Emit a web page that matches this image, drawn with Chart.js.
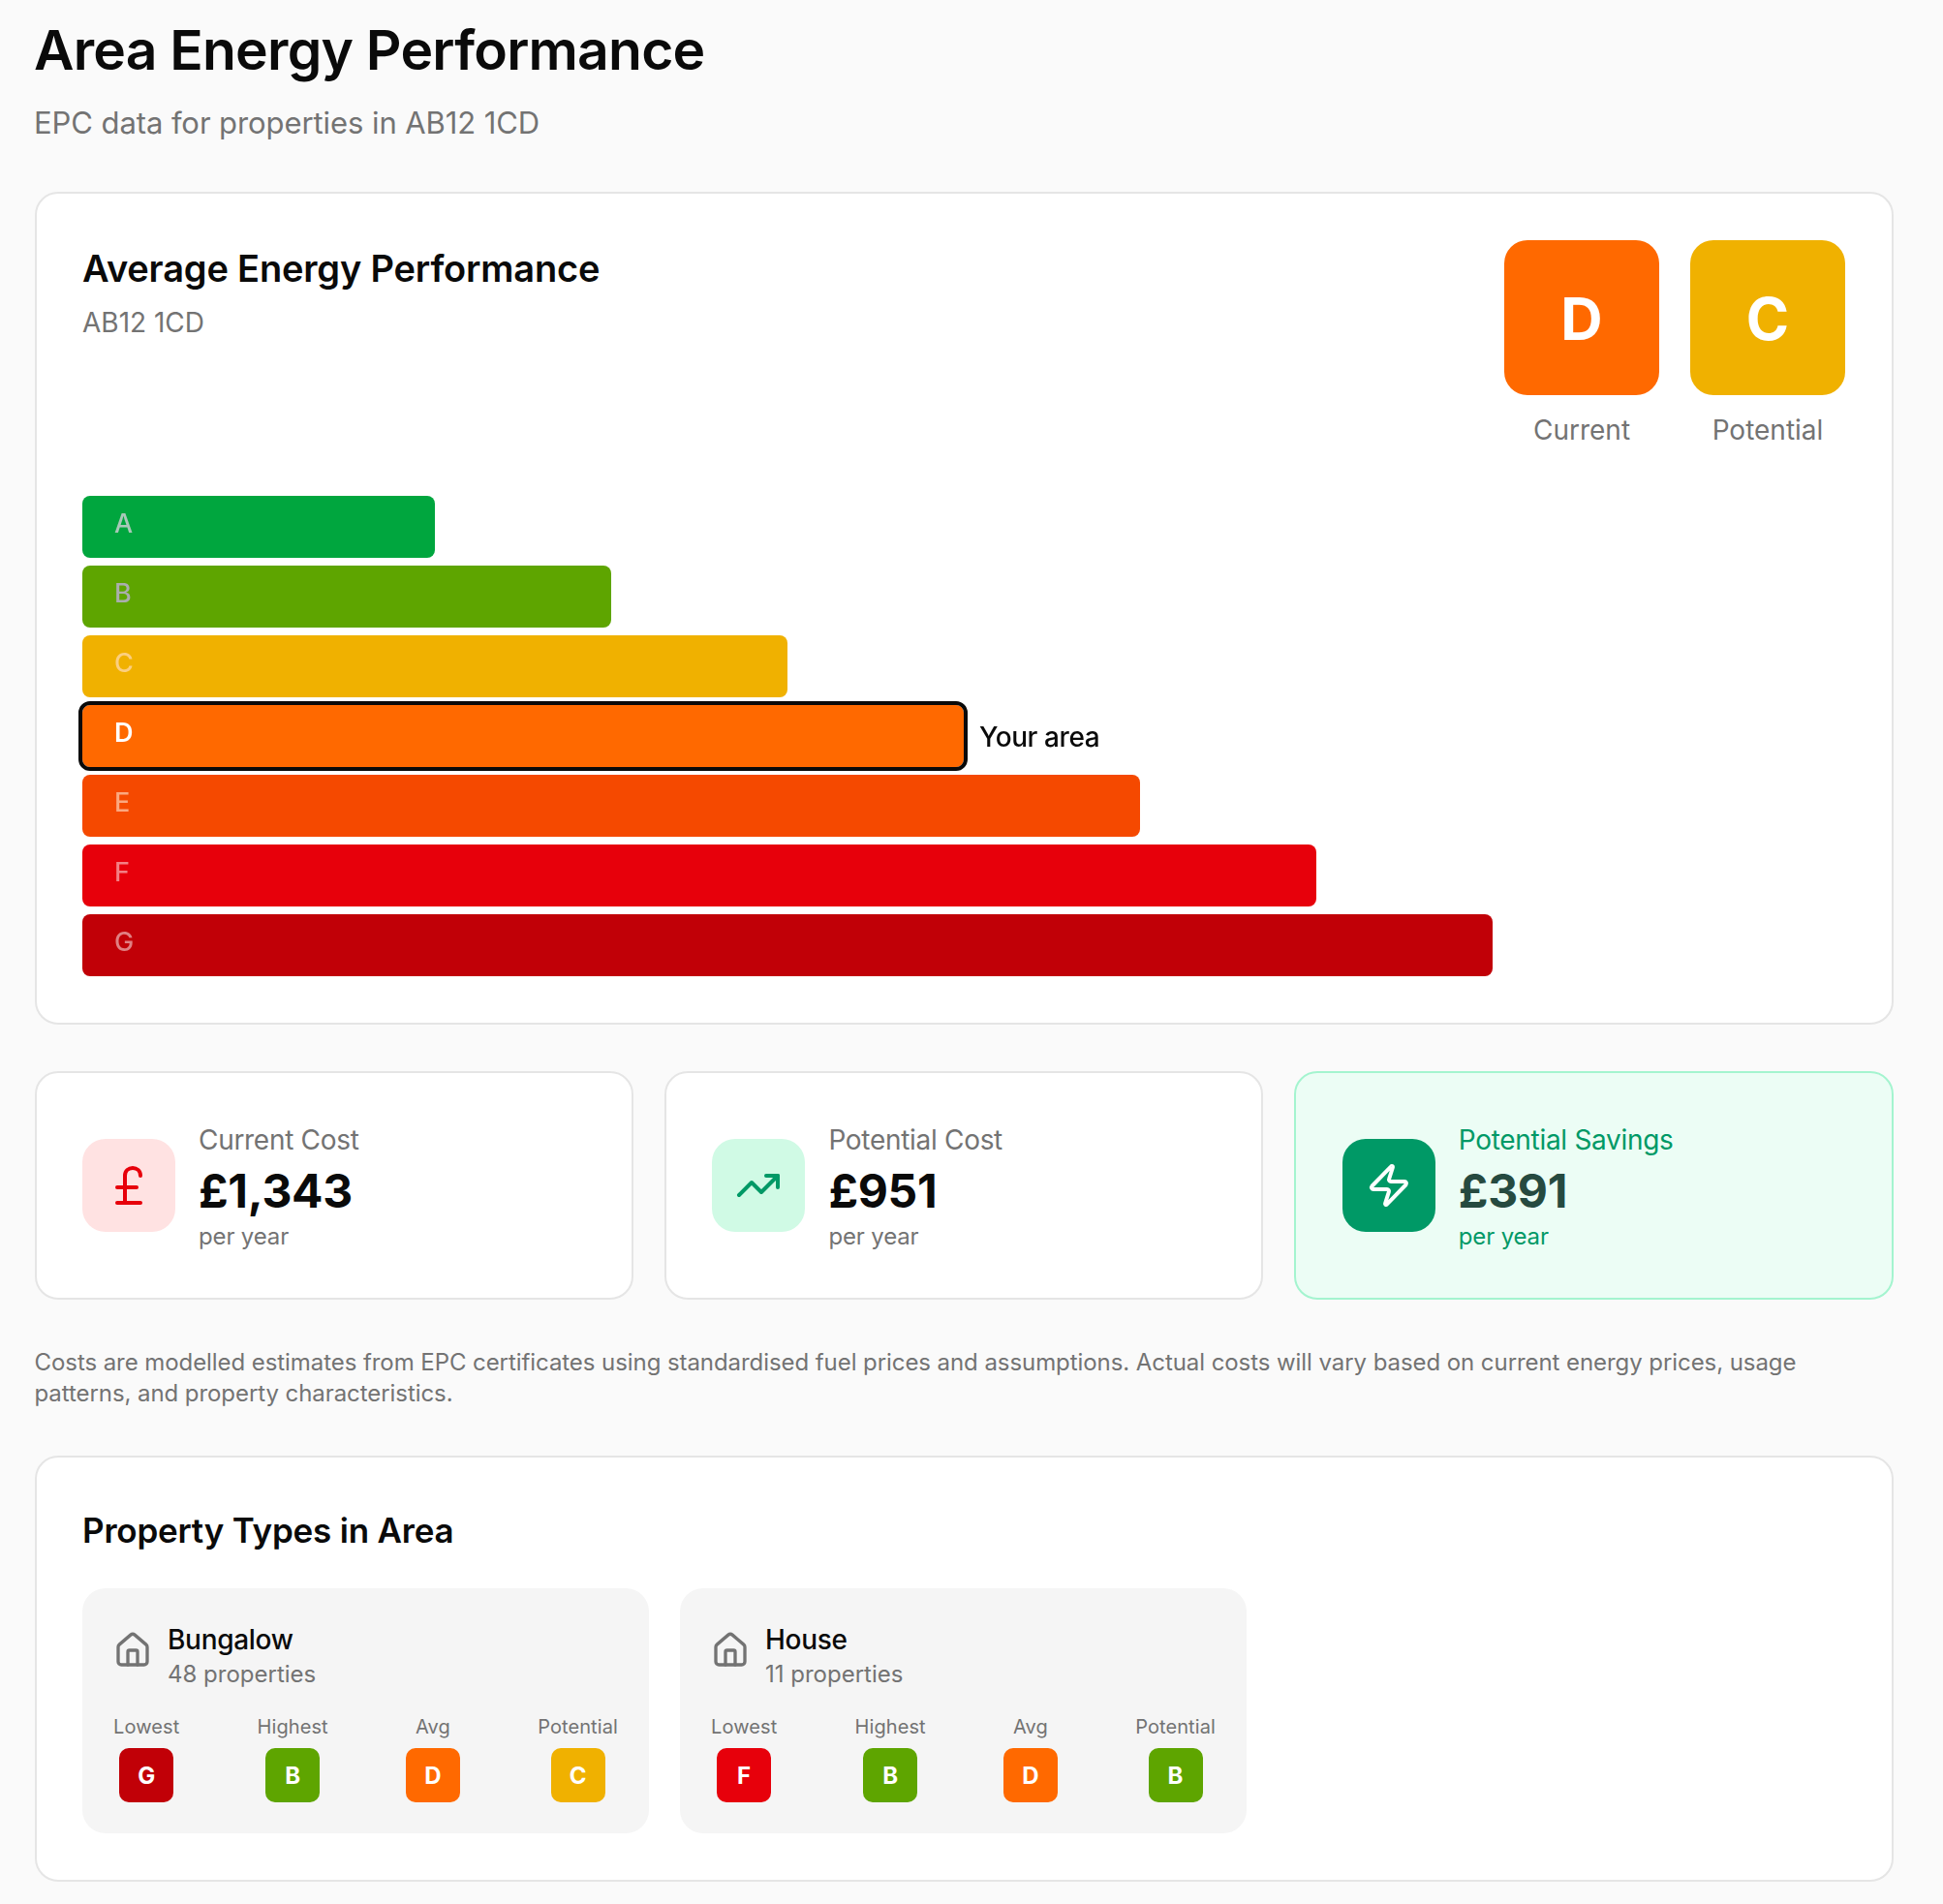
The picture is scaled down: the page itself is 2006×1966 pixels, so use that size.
<!DOCTYPE html>
<html>
<head>
<meta charset="utf-8">
<title>Area Energy Performance</title>
<script src="https://cdn.jsdelivr.net/npm/chart.js@4"></script>
<style>
* { box-sizing: border-box; margin: 0; padding: 0; }
html, body { width: 2006px; height: 1966px; background: #fafafa; overflow: hidden; }
body { position: relative; font-family: Inter, sans-serif; color: #0a0a0a; }
.abs { position: absolute; white-space: nowrap; }
.card { position: absolute; background: #fff; border: 2px solid #e5e5e5; border-radius: 24px; }
.muted { color: #737373; }
h1 { font-size: 57px; font-weight: 600; line-height: 72px; letter-spacing: -.78px; }
h2 { font-weight: 600; }
.grade { position: absolute; display: flex; align-items: center; justify-content: center; color: #fff; font-weight: 700; }
.stat { top: 1106px; height: 236px; width: 618.3px; }
.stat .icon { position: absolute; left: 47.5px; top: 68px; width: 96px; height: 96px; border-radius: 24px; display: flex; align-items: center; justify-content: center; }
.stat .lab { position: absolute; left: 167.5px; top: 49px; font-size: 28px; line-height: 40px; white-space: nowrap; letter-spacing: -.3px; }
.stat .val { position: absolute; left: 167.5px; top: 92px; font-size: 48px; line-height: 60px; font-weight: 700; white-space: nowrap; letter-spacing: -.3px; }
.stat .per { position: absolute; left: 167.5px; top: 153px; font-size: 24px; line-height: 32px; white-space: nowrap; letter-spacing: -.15px; }
.type { position: absolute; top: 1640px; width: 585px; height: 253px; background: #f5f5f5; border-radius: 24px; }
.type svg { position: absolute; left: 32px; top: 44px; }
.type .name { position: absolute; left: 88px; top: 33px; font-size: 28px; line-height: 40px; font-weight: 500; white-space: nowrap; letter-spacing: -.3px; }
.type .count { position: absolute; left: 88px; top: 71px; font-size: 24px; line-height: 36px; white-space: nowrap; }
.type .row { position: absolute; left: 32px; right: 32px; top: 128px; display: flex; justify-content: space-between; }
.type .col { display: flex; flex-direction: column; align-items: center; }
.type .col span { font-size: 20px; line-height: 30px; color: #737373; margin-bottom: 7px; letter-spacing: .1px; }
.type .col b { width: 56px; height: 56px; border-radius: 10px; color: #fff; font-size: 24px; font-weight: 700; display: flex; align-items: center; justify-content: center; padding-top: 1px; }
svg { fill: none; stroke-linecap: round; stroke-linejoin: round; stroke-width: 2; }
</style>
</head>
<body>
<h1 class="abs" style="left:35px;top:16px">Area Energy Performance</h1>
<div class="abs muted" style="left:35px;top:106px;font-size:31px;line-height:42px;letter-spacing:-.08px">EPC data for properties in AB12 1CD</div>

<div class="card" style="left:35.5px;top:198px;width:1919px;height:860px"></div>
<h2 class="abs" style="left:85px;top:251px;font-size:38px;line-height:52px;letter-spacing:-.18px">Average Energy Performance</h2>
<div class="abs muted" style="left:85px;top:313px;font-size:28px;line-height:40px">AB12 1CD</div>
<div id="badges"></div>

<canvas id="grafico-epc" style="position:absolute;left:75px;top:508px"></canvas>

<div class="card stat" style="left:35.5px">
  <div class="icon" style="background:#ffe2e2">
    <svg width="48" height="48" viewBox="0 0 24 24" stroke="#e7000b"><path d="M18 7c0-5.333-8-5.333-8 0"/><path d="M10 7v14"/><path d="M6 21h12"/><path d="M6 13h10"/></svg>
  </div>
  <div class="lab muted">Current Cost</div><div class="val" id="custo-atual"></div><div class="per muted">per year</div>
</div>
<div class="card stat" style="left:685.9px">
  <div class="icon" style="background:#d0fae5">
    <svg width="48" height="48" viewBox="0 0 24 24" stroke="#009966"><path d="M22 7 13.5 15.5 8.5 10.5 2 17"/><path d="M16 7h6v6"/></svg>
  </div>
  <div class="lab muted">Potential Cost</div><div class="val" id="custo-potencial"></div><div class="per muted">per year</div>
</div>
<div class="card stat" style="left:1336.3px;background:#ecfdf5;border-color:#a4f4cf">
  <div class="icon" style="background:#009966">
    <svg width="48" height="48" viewBox="0 0 24 24" stroke="#fff"><path d="M4 14a1 1 0 0 1-.78-1.63l9.9-10.2a.5.5 0 0 1 .86.46l-1.92 6.02A1 1 0 0 0 13 10h7a1 1 0 0 1 .78 1.63l-9.9 10.2a.5.5 0 0 1-.86-.46l1.92-6.02A1 1 0 0 0 11 14z"/></svg>
  </div>
  <div class="lab" style="color:#009966">Potential Savings</div><div class="val" id="poupanca" style="color:#264a40"></div><div class="per" style="color:#009966">per year</div>
</div>

<div class="abs muted" style="left:35.5px;top:1391px;font-size:24px;line-height:32px;letter-spacing:-.07px">Costs are modelled estimates from EPC certificates using standardised fuel prices and assumptions. Actual costs will vary based on current energy prices, usage<br>patterns, and property characteristics.</div>

<div class="card" style="left:35.5px;top:1502.5px;width:1919px;height:440.5px"></div>
<h2 class="abs" style="left:85px;top:1556px;font-size:35px;line-height:48px;letter-spacing:-.2px">Property Types in Area</h2>
<div id="tipos"></div>

<script>
const gradeLetters = ['A', 'B', 'C', 'D', 'E', 'F', 'G'];
const gradeWidths = [20, 30, 40, 50, 60, 70, 80];
const gradeColours = ['#00a63e', '#5ea500', '#f0b100', '#ff6900', '#f54900', '#e7000b', '#c10007'];
const letterColours = ['#a8c8b8', '#aaaead', '#fbcf80', '#ffffff', '#fba880', '#f38085', '#e08083'];
const areaGrade = 'D';
const areaNote = 'Your area';

const headerGrades = ['D', 'C'];
const headerLabels = ['Current', 'Potential'];

const currentCost = '£1,343';
const potentialCost = '£951';
const savings = '£391';

const typeNames = ['Bungalow', 'House'];
const typeCounts = ['48 properties', '11 properties'];
const typeColumns = ['Lowest', 'Highest', 'Avg', 'Potential'];
const bungalowGrades = ['G', 'B', 'D', 'C'];
const houseGrades = ['F', 'B', 'D', 'B'];

function corDaNota(nota) {
    return gradeColours[gradeLetters.indexOf(nota)];
}

document.getElementById('custo-atual').textContent = currentCost;
document.getElementById('custo-potencial').textContent = potentialCost;
document.getElementById('poupanca').textContent = savings;

// the two big squares, top right
const badges = document.getElementById('badges');
headerGrades.forEach((nota, i) => {
    const left = 1553 + i * 192;
    badges.innerHTML += `<div class="grade" style="left:${left}px;top:248px;width:160px;height:160px;border-radius:24px;font-size:60px;background:${corDaNota(nota)};padding-top:2px">${nota}</div>
      <div class="abs muted" style="left:${left}px;width:160px;text-align:center;top:424px;font-size:28px;line-height:40px">${headerLabels[i]}</div>`;
});

const iconeCasa = '<svg width="40" height="40" viewBox="0 0 24 24" stroke="#737373"><path d="M15 21v-8a1 1 0 0 0-1-1h-4a1 1 0 0 0-1 1v8"/><path d="M3 10a2 2 0 0 1 .709-1.528l7-5.999a2 2 0 0 1 2.582 0l7 5.999A2 2 0 0 1 21 10v9a2 2 0 0 1-2 2H5a2 2 0 0 1-2-2z"/></svg>';
const tipos = document.getElementById('tipos');
[bungalowGrades, houseGrades].forEach((notas, i) => {
    const colunas = typeColumns.map((nome, j) =>
        `<div class="col"><span>${nome}</span><b style="background:${corDaNota(notas[j])}">${notas[j]}</b></div>`).join('');
    tipos.innerHTML += `<div class="type" style="left:${85 + i * 617}px">${iconeCasa}
      <div class="name">${typeNames[i]}</div><div class="count muted">${typeCounts[i]}</div>
      <div class="row">${colunas}</div></div>`;
});

// outline and note on the highlighted bar
const destaqueArea = {
    id: 'destaqueArea',
    afterDraw(chart) {
        const barra = chart.getDatasetMeta(0).data[gradeLetters.indexOf(areaGrade)];
        const ctx = chart.ctx;
        const topo = barra.y - barra.height / 2;
        ctx.save();
        ctx.strokeStyle = '#0a0a0a';
        ctx.lineWidth = 4;
        ctx.beginPath();
        ctx.roundRect(barra.base - 2, topo - 2, barra.x - barra.base + 4, barra.height + 4, 10);
        ctx.stroke();
        ctx.fillStyle = '#0a0a0a';
        ctx.font = '500 28px Inter';
        ctx.letterSpacing = '-0.4px';
        ctx.textBaseline = 'middle';
        ctx.fillText(areaNote, barra.x + 16, barra.y + 3);
        ctx.restore();
    }
};

const canvas = document.getElementById('grafico-epc');
canvas.width = 1840;
canvas.height = 504;

new Chart(canvas, {
    type: 'bar',
    data: {
        labels: gradeLetters,
        datasets: [{
            data: gradeWidths,
            backgroundColor: gradeColours,
            borderRadius: 8,
            borderSkipped: false,
            barPercentage: 64 / 72,
            categoryPercentage: 1
        }]
    },
    options: {
        indexAxis: 'y',
        responsive: false,
        animation: false,
        layout: { padding: { left: 10, right: 10 } },
        scales: {
            x: { display: false, min: 0, max: 100 },
            y: {
                grid: { display: false },
                border: { display: false },
                // mirrored labels sit inside the bars, the axis takes no room
                afterFit(escala) {
                    escala.width = 0;
                    escala.paddingTop = 0;
                    escala.paddingBottom = 0;
                },
                ticks: {
                    z: 1,
                    mirror: true,
                    padding: 33,
                    labelOffset: -2,
                    autoSkip: false,
                    font: contexto => ({
                        family: 'Inter',
                        size: 27,
                        weight: contexto.index === gradeLetters.indexOf(areaGrade) ? '600' : '500'
                    }),
                    color: contexto => letterColours[contexto.index]
                }
            }
        },
        plugins: { legend: { display: false }, tooltip: { enabled: false } }
    },
    plugins: [destaqueArea]
});
</script>
</body>
</html>
